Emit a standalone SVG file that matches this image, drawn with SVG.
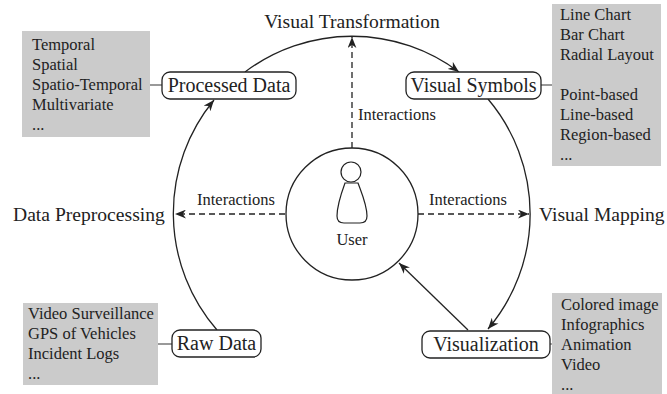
<svg xmlns="http://www.w3.org/2000/svg" width="667" height="394" viewBox="0 0 667 394">
<style>
  text { font-family: "Liberation Serif", "Times New Roman", serif; fill: #222; }
  .node { fill: #fff; stroke: #222; stroke-width: 1.3; }
  .lbl { font-size: 20px; text-anchor: middle; }
  .big { font-size: 19.6px; }
  .list { font-size: 16.5px; }
  .box { fill: #cbcbcb; stroke: none; }
  .tie { stroke: #555; stroke-width: 1.2; fill: none; }
  .edge { stroke: #222; stroke-width: 1.3; fill: none; marker-end: url(#arr); }
  .dash { stroke-dasharray: 6 4; }
  .ring { fill: #fff; stroke: #222; stroke-width: 1.3; }
</style>
<defs>
  <marker id="arr" viewBox="0 0 10 8" refX="10" refY="4" markerWidth="11" markerHeight="9" markerUnits="userSpaceOnUse" orient="auto">
    <path d="M0,0 L10,4 L0,8 L3,4 Z" fill="#222"/>
  </marker>
</defs>
<rect width="667" height="394" fill="#fff"/>

<g id="connectors">
  <path class="edge" d="M217,330 A178,178 0 0 1 214,100"/>
  <path class="edge" d="M245,72 A178,178 0 0 1 459,72"/>
  <path class="edge" d="M488,99 A178,178 0 0 1 488,329"/>
  <path class="edge" d="M468,330 L399,263"/>
  <path class="edge dash" d="M285,214 L175,214"/>
  <path class="edge dash" d="M418,214 L529,214"/>
  <path class="edge dash" d="M352,148 L352,37"/>
  <line class="tie" x1="150" y1="85" x2="162" y2="85"/>
  <line class="tie" x1="541" y1="85" x2="552" y2="85"/>
  <line class="tie" x1="158" y1="344" x2="172" y2="344"/>
  <line class="tie" x1="550" y1="344" x2="552" y2="344"/>
</g>

<g id="labels">
  <text class="big" x="352" y="28" text-anchor="middle">Visual Transformation</text>
  <text class="big" x="13" y="221">Data Preprocessing</text>
  <text class="big" x="539" y="221">Visual Mapping</text>
  <text class="list" x="197" y="205">Interactions</text>
  <text class="list" x="429" y="205">Interactions</text>
  <text class="list" x="358" y="120">Interactions</text>
</g>

<g id="user">
  <circle class="ring" cx="352" cy="214" r="66"/>
  <circle cx="351" cy="172" r="10" fill="#fff" stroke="#222" stroke-width="1.2"/>
  <path d="M345,183 L358,183 C362,194 367,205 367,216 Q367,223 360,223 L344,223 Q337,223 337,216 C337,205 341,194 345,183 Z" fill="#fff" stroke="#222" stroke-width="1.2"/>
  <text class="list" x="352" y="245" text-anchor="middle">User</text>
</g>

<g id="processed-data">
  <rect class="node" x="162" y="72" width="134" height="27" rx="8"/>
  <text class="lbl" x="229" y="92">Processed Data</text>
</g>
<g id="visual-symbols">
  <rect class="node" x="406" y="72" width="135" height="27" rx="8"/>
  <text class="lbl" x="473.5" y="92">Visual Symbols</text>
</g>
<g id="raw-data">
  <rect class="node" x="172" y="330" width="89" height="27" rx="8"/>
  <text class="lbl" x="216.5" y="350">Raw Data</text>
</g>
<g id="visualization">
  <rect class="node" x="422" y="331" width="128" height="27" rx="8"/>
  <text class="lbl" x="486" y="351">Visualization</text>
</g>

<g id="box-processed">
  <rect class="box" x="22" y="31" width="128" height="106"/>
  <text class="list" x="32" y="50">Temporal</text>
  <text class="list" x="32" y="70">Spatial</text>
  <text class="list" x="32" y="90">Spatio-Temporal</text>
  <text class="list" x="32" y="110">Multivariate</text>
  <text class="list" x="32" y="130">...</text>
</g>
<g id="box-symbols">
  <rect class="box" x="552" y="4" width="109" height="162"/>
  <text class="list" x="560" y="20">Line Chart</text>
  <text class="list" x="560" y="40">Bar Chart</text>
  <text class="list" x="560" y="60">Radial Layout</text>
  <text class="list" x="560" y="100">Point-based</text>
  <text class="list" x="560" y="120">Line-based</text>
  <text class="list" x="560" y="140">Region-based</text>
  <text class="list" x="560" y="160">...</text>
</g>
<g id="box-raw">
  <rect class="box" x="23" y="303" width="135" height="82"/>
  <text class="list" x="28" y="319">Video Surveillance</text>
  <text class="list" x="28" y="339">GPS of Vehicles</text>
  <text class="list" x="28" y="359">Incident Logs</text>
  <text class="list" x="28" y="379">...</text>
</g>
<g id="box-visualization">
  <rect class="box" x="552" y="293" width="110" height="101"/>
  <text class="list" x="561" y="310">Colored image</text>
  <text class="list" x="561" y="330">Infographics</text>
  <text class="list" x="561" y="350">Animation</text>
  <text class="list" x="561" y="370">Video</text>
  <text class="list" x="561" y="390">...</text>
</g>
</svg>
